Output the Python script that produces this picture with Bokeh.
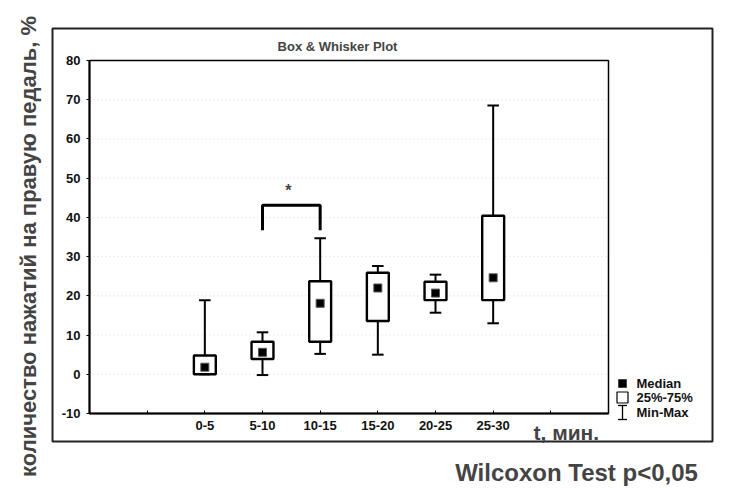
from bokeh.plotting import figure
from bokeh.models import (ColumnDataSource, Label, LinearAxis, FixedTicker, Range1d)
from bokeh.embed import file_html
from bokeh.resources import INLINE
from math import pi

# time intervals (minutes) and per-interval statistics, %
categories = ["0-5", "5-10", "10-15", "15-20", "20-25", "25-30"]
positions = [2, 3, 4, 5, 6, 7]
mins = [0.0, -0.2, 5.2, 5.0, 15.7, 13.0]
q1 = [0.0, 3.9, 8.3, 13.6, 18.9, 18.9]
medians = [1.8, 5.6, 18.1, 22.0, 20.7, 24.6]
q3 = [4.8, 8.3, 23.7, 25.9, 23.6, 40.4]
maxs = [18.9, 10.7, 34.7, 27.6, 25.4, 68.5]

# significance bracket between 5-10 and 10-15
bracket_x = [3, 3, 4, 4]
bracket_y = [36.7, 43.1, 43.1, 36.7]

x_ticks = [1, 2, 3, 4, 5, 6, 7, 8]
y_ticks = [-10, 0, 10, 20, 30, 40, 50, 60, 70, 80]
legend_labels = ["Median", "25%-75%", "Min-Max"]

FONT = "Liberation Sans"

# plot box spans x 0..9, y -10..80; the canvas around it holds the decorations
X0, X1, Y0, Y1 = 0, 9, -10, 80
XPX = 519 / 9.0     # pixels per x unit
YPX = 353 / 90.0    # pixels per y unit

src = ColumnDataSource(dict(x=positions, lo=mins, q1=q1, med=medians, q3=q3, hi=maxs,
                            cl=[v - 0.1 for v in positions], cr=[v + 0.1 for v in positions]))

p = figure(width=756, height=491, output_backend="svg", toolbar_location=None,
           x_range=Range1d(X0 - 89 / XPX, X1 + 148 / XPX),
           y_range=Range1d(Y0 - 78 / YPX, Y1 + 60 / YPX),
           x_axis_location=None, y_axis_location=None,
           min_border=0)
p.title = None
p.outline_line_color = None
p.background_fill_color = "white"
p.border_fill_color = "white"
p.xgrid.visible = False
p.ygrid.visible = False

# outer panel frame
p.quad(left=[X0 - 37 / XPX], right=[X1 + 104 / XPX], bottom=[Y0 - 28 / YPX],
       top=[Y1 + 32 / YPX], fill_color=None, line_color="#222222", line_width=2)

# faint horizontal grid inside the plot box
grid_y = [v for v in y_ticks if Y0 < v < Y1]
p.segment(x0=[X0] * len(grid_y), x1=[X1] * len(grid_y), y0=grid_y, y1=grid_y,
          line_color="#dcdcdc", line_width=1, line_dash="1 3")

# plot box outline
p.quad(left=[X0], right=[X1], bottom=[Y0], top=[Y1], fill_color=None,
       line_color="black", line_width=1.5)

# axes pinned to the plot box
xaxis = LinearAxis(fixed_location=Y0, bounds=(X0, X1),
                   ticker=FixedTicker(ticks=x_ticks),
                   major_label_overrides={1: "", 2: categories[0], 3: categories[1],
                                          4: categories[2], 5: categories[3],
                                          6: categories[4], 7: categories[5], 8: ""})
yaxis = LinearAxis(fixed_location=X0, bounds=(Y0, Y1), ticker=FixedTicker(ticks=y_ticks),
                   major_label_overrides={v: str(v) for v in y_ticks})
for ax in (xaxis, yaxis):
    ax.axis_line_width = 2
    ax.axis_line_color = "black"
    ax.major_tick_line_color = "black"
    ax.minor_tick_line_color = None
    ax.major_label_text_font = FONT
    ax.major_label_text_font_size = "13px"
    ax.major_label_text_font_style = "bold"
    ax.major_label_text_color = "#111111"
xaxis.major_tick_in = 3
xaxis.major_tick_out = 0
xaxis.major_label_standoff = 7
yaxis.major_tick_in = 0
yaxis.major_tick_out = 3
yaxis.major_label_standoff = 6
p.add_layout(xaxis, "below")
p.add_layout(yaxis, "left")

# whiskers and caps
p.segment(x0="x", y0="lo", x1="x", y1="q1", source=src, line_color="black", line_width=2)
p.segment(x0="x", y0="q3", x1="x", y1="hi", source=src, line_color="black", line_width=2)
p.segment(x0="cl", y0="lo", x1="cr", y1="lo", source=src, line_color="black", line_width=2)
p.segment(x0="cl", y0="hi", x1="cr", y1="hi", source=src, line_color="black", line_width=2)

# boxes (25%-75%)
p.vbar(x="x", bottom="q1", top="q3", width=0.38, source=src,
       fill_color="white", line_color="black", line_width=2.4)

# medians
p.scatter(x="x", y="med", source=src, marker="square", size=8,
          fill_color="black", line_color="#555555", line_width=1)

# significance bracket and star
p.line(bracket_x, bracket_y, line_color="black", line_width=3)
p.add_layout(Label(x=3.45, y=46.8, text="*", text_font=FONT, text_font_size="16px",
                   text_font_style="bold", text_align="center", text_baseline="middle"))

# texts around the plot box
p.add_layout(Label(x=X0 + 248 / XPX, y=Y1 + 14.5 / YPX, text="Box & Whisker Plot",
                   text_font=FONT, text_font_size="13px", text_font_style="bold",
                   text_align="center", text_baseline="middle"))
p.add_layout(Label(x=X0 - 61 / XPX, y=Y1 - 186 / YPX,
                   text="количество нажатий на правую педаль, %",
                   text_font=FONT, text_font_size="22px", text_font_style="bold",
                   angle=pi / 2, text_align="center", text_baseline="middle"))
p.add_layout(Label(x=X0 + 444 / XPX, y=Y0 - 19 / YPX, text="t, мин.", text_font=FONT,
                   text_font_size="21px", text_font_style="bold",
                   text_align="left", text_baseline="middle"))
p.add_layout(Label(x=X0 + 487 / XPX, y=Y0 - 59 / YPX, text="Wilcoxon Test p<0,05",
                   text_font=FONT, text_font_size="24px", text_font_style="bold",
                   text_align="center", text_baseline="middle"))

# legend
lx = X1 + 14 / XPX
ltx = X1 + 28 / XPX
ly = [Y0 + 30 / YPX, Y0 + 16 / YPX, Y0 + 1 / YPX]
p.scatter(x=[lx], y=[ly[0]], marker="square", size=8, fill_color="black",
          line_color="#444444", line_width=1)
p.scatter(x=[lx], y=[ly[1]], marker="square", size=11, fill_color="white",
          line_color="black", line_width=1.2)
p.segment(x0=[lx, lx - 4.5 / XPX, lx - 4.5 / XPX],
          x1=[lx, lx + 4.5 / XPX, lx + 4.5 / XPX],
          y0=[ly[2] - 7 / YPX, ly[2] - 7 / YPX, ly[2] + 7 / YPX],
          y1=[ly[2] + 7 / YPX, ly[2] - 7 / YPX, ly[2] + 7 / YPX],
          line_color="black", line_width=1.3)
for yy, t in zip(ly, legend_labels):
    p.add_layout(Label(x=ltx, y=yy, text=t, text_font=FONT, text_font_size="13px",
                       text_font_style="bold", text_align="left", text_baseline="middle",
                       text_color="#111111"))

open("out.html", "w").write(file_html(p, INLINE))
